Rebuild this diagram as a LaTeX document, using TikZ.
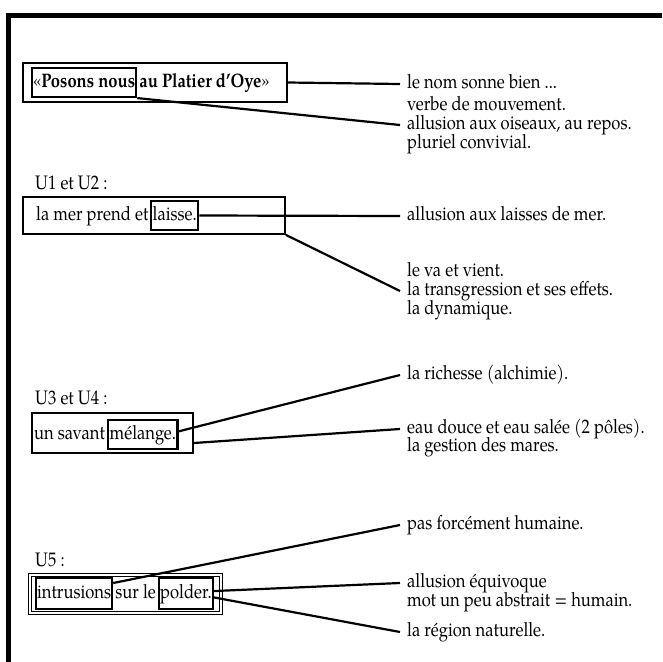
\documentclass[tikz,border=0pt]{standalone}
\usepackage{fontspec}
\setmainfont{texgyrepagella}[Extension=.otf, UprightFont=*-regular, BoldFont=*-bold, ItalicFont=*-italic, BoldItalicFont=*-bolditalic, FakeStretch=0.85]
\newcommand\fs{\fontsize{19.5}{22}\selectfont}
\begin{document}
\begin{tikzpicture}[x=1pt,y=-1pt,
  txt/.style={inner sep=0pt, font=\fs, text height=13pt, text depth=4pt},
  lbl/.style={txt, anchor=west, inner xsep=7pt},
  obox/.style={draw, line width=1.8pt, inner sep=0pt},
  ibox/.style={draw, line width=2.2pt, inner ysep=0pt, font=\fs, text height=13pt, text depth=4pt},
  conn/.style={line width=2.2pt},
]
\useasboundingbox (0,0) rectangle (662,662);
% frame
\draw[line width=5.5pt] (8.5,662) -- (8.5,15.5) -- (662,15.5);

% box 1
\node[obox, minimum width=264pt, minimum height=39pt] (b1) at (155,82.5) {};
\node[ibox, anchor=west, inner xsep=1pt, minimum height=29pt] (pn) at (31,82.5) {«\textbf{Posons nous}};
\node[txt, anchor=west] (ap) at ([xshift=2pt]pn.east) {\textbf{au Platier d’Oye}»};

% box 2
\node[txt, anchor=west] (u12) at (35,185) {U1 et U2 :};
\node[obox, minimum width=262pt, minimum height=37pt] (b2) at (154,215.5) {};
\node[txt, anchor=west] (mer) at (36,215.5) {la mer prend et};
\node[ibox, anchor=west, inner xsep=1.5pt, minimum height=29pt] (laisse) at ([xshift=1.5pt]mer.east) {laisse.};

% box 3
\node[txt, anchor=west] (u34) at (35,400) {U3 et U4 :};
\node[obox, minimum width=161pt, minimum height=40pt] (b3) at (112.5,433) {};
\node[txt, anchor=west] (sav) at (34,434.5) {un savant};
\node[ibox, anchor=west, inner xsep=1.5pt, minimum height=29pt] (mel) at ([xshift=2pt]sav.east) {mélange.};

% box 5
\node[txt, anchor=west] (u5) at (35,562) {U5 :};
\node[draw, double, line width=1.5pt, double distance=1.5pt, inner sep=0pt, minimum width=191pt, minimum height=38pt] (b5) at (125.5,594) {};
\node[ibox, anchor=west, inner xsep=1pt, minimum height=31pt] (intr) at (35,593.5) {intrusions};
\node[txt, anchor=west] (sur) at ([xshift=2pt]intr.east) {sur le};
\node[ibox, anchor=west, inner xsep=1pt, minimum height=31pt] (pold) at ([xshift=2pt]sur.east) {polder.};

% labels
\node[lbl] (l1) at (400,84) {le nom sonne bien ...};
\node[lbl] (l2a) at (400,106) {verbe de mouvement.};
\node[lbl] (l2b) at (400,125) {allusion aux oiseaux, au repos.};
\node[lbl] (l2c) at (400,144) {pluriel convivial.};
\node[lbl] (l3) at (400,216) {allusion aux laisses de mer.};
\node[lbl] (l4a) at (400,272) {le va et vient.};
\node[lbl] (l4b) at (400,291) {la transgression et ses effets.};
\node[lbl] (l4c) at (400,310) {la dynamique.};
\node[lbl] (l5) at (400,375) {la richesse (alchimie).};
\node[lbl] (l6a) at (400,429) {eau douce et eau salée (2 pôles).};
\node[lbl] (l6b) at (400,447) {la gestion des mares.};
\node[lbl] (l7) at (400,525) {pas forcément humaine.};
\node[lbl] (l8a) at (400,583) {allusion équivoque};
\node[lbl] (l8b) at (400,602) {mot un peu abstrait = humain.};
\node[lbl] (l9) at (400,632) {la région naturelle.};

% connectors
\draw[conn] (b1.east) -- (l1.west);
\draw[conn] (pn.south east) -- (l2b.west);
\draw[conn] (laisse.east) -- (l3.west);
\draw[conn] (b2.south east) -- (l4b.west);
\draw[conn] (mel.5) -- (l5.west);
\draw[conn] (b3.-7) -- (l6a.west);
\draw[conn] (intr.15) -- (l7.west);
\draw[conn] (pold.5) -- (l8a.west);
\draw[conn] (pold.-8) -- (l9.west);
\end{tikzpicture}
\end{document}
